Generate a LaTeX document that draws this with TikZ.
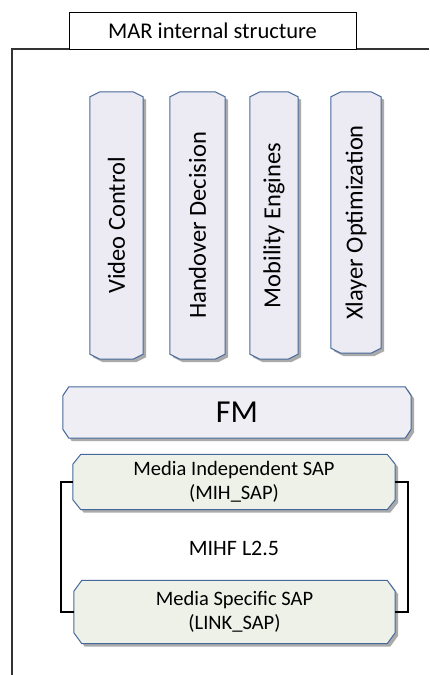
\documentclass[tikz,border=0pt]{standalone}
\usepackage{fontspec}
\setmainfont{Carlito}
\usepackage{graphicx}
\usetikzlibrary{backgrounds}
\definecolor{bord}{RGB}{70,105,155}
\definecolor{lav}{RGB}{236,234,243}
\definecolor{fmfill}{RGB}{239,238,245}
\definecolor{sapfill}{RGB}{238,241,231}
\definecolor{shade}{RGB}{170,170,170}
% #1 node, #2 chamfer x, #3 chamfer y, #4 dx, #5 dy, #6 style
\newcommand\chamf[6]{%
  \path[#6]
    ([xshift={#2+(#4)},yshift={#5}]#1.north west) --
    ([xshift={-#2+(#4)},yshift={#5}]#1.north east) --
    ([xshift={#4},yshift={-#3+(#5)}]#1.north east) --
    ([xshift={#4},yshift={#3+(#5)}]#1.south east) --
    ([xshift={-#2+(#4)},yshift={#5}]#1.south east) --
    ([xshift={#2+(#4)},yshift={#5}]#1.south west) --
    ([xshift={#4},yshift={#3+(#5)}]#1.south west) --
    ([xshift={#4},yshift={-#3+(#5)}]#1.north west) -- cycle;}
\begin{document}
\begin{tikzpicture}[x=1pt,y=-1pt,
  box/.style={inner sep=0pt, align=center},
  vtext/.style={box, font=\fontsize{24.5}{28}\selectfont},
  saptext/.style={box, font=\fontsize{20.5}{23.5}\selectfont},
  shadowfill/.style={fill=shade, draw=none},
  vfill/.style={fill=lav, draw=bord, line width=1pt},
  ffill/.style={fill=fmfill, draw=bord, line width=1pt},
  sfill/.style={fill=sapfill, draw=bord, line width=1pt},
  frame/.style={draw=black!80, line width=1.4pt},
  bracket/.style={draw=black, line width=2pt}]
\useasboundingbox (0,0) rectangle (429,675);

% frame
\coordinate (fbl) at (12,675);
\coordinate (ftl) at (12,49);
\coordinate (ftr) at (429,49);
\draw[frame] (fbl) -- (ftl) -- (ftr);

\node[draw, line width=1pt, fill=white, minimum width=287pt, minimum height=37pt,
      inner sep=0pt, font=\fontsize{22.5}{26}\selectfont] (title) at (212.5,30.5) {MAR internal structure};

% vertical boxes
\node[vtext, minimum width=53pt, minimum height=267pt] (vc) at (116.5,225.5) {\rotatebox{90}{Video Control}};
\node[vtext, minimum width=55pt, minimum height=267pt] (hd) at (197.5,225.5) {\rotatebox{90}{Handover Decision}};
\node[vtext, minimum width=48pt, minimum height=267pt] (me) at (274,225.5) {\rotatebox{90}{Mobility Engines}};
\node[vtext, minimum width=50pt, minimum height=261pt] (xo) at (356,222.5) {\rotatebox{90}{Xlayer Optimization}};

% FM
\node[box, minimum width=348pt, minimum height=51pt, font=\fontsize{32}{36}\selectfont] (fm) at (237,412.5) {FM};

% SAPs
\node[saptext, minimum width=322pt, minimum height=55pt] (mih) at (234,482) {Media Independent SAP\\(MIH\_SAP)};
\node[saptext, minimum width=321pt, minimum height=63pt] (link) at (234.5,612) {Media Specific SAP\\(LINK\_SAP)};
\node[box, font=\fontsize{22}{26}\selectfont] (mihf) at (234,548) {MIHF L2.5};

\draw[bracket] (mih.west) -- ++(-12,0) |- (link.west);
\draw[bracket] (mih.east) -- ++(13,0) |- (link.east);

\begin{scope}[on background layer]
  \foreach \n in {vc,hd,me,xo}{
    \chamf{\n}{10pt}{5pt}{3pt}{-3pt}{shadowfill}
    \chamf{\n}{10pt}{5pt}{0pt}{0pt}{vfill}
  }
  \chamf{fm}{6pt}{9pt}{3pt}{-3pt}{shadowfill}
  \chamf{fm}{6pt}{9pt}{0pt}{0pt}{ffill}
  \chamf{mih}{8pt}{10pt}{3pt}{-3pt}{shadowfill}
  \chamf{mih}{8pt}{10pt}{0pt}{0pt}{sfill}
  \chamf{link}{8pt}{11pt}{3pt}{-3pt}{shadowfill}
  \chamf{link}{8pt}{11pt}{0pt}{0pt}{sfill}
\end{scope}
\end{tikzpicture}
\end{document}
